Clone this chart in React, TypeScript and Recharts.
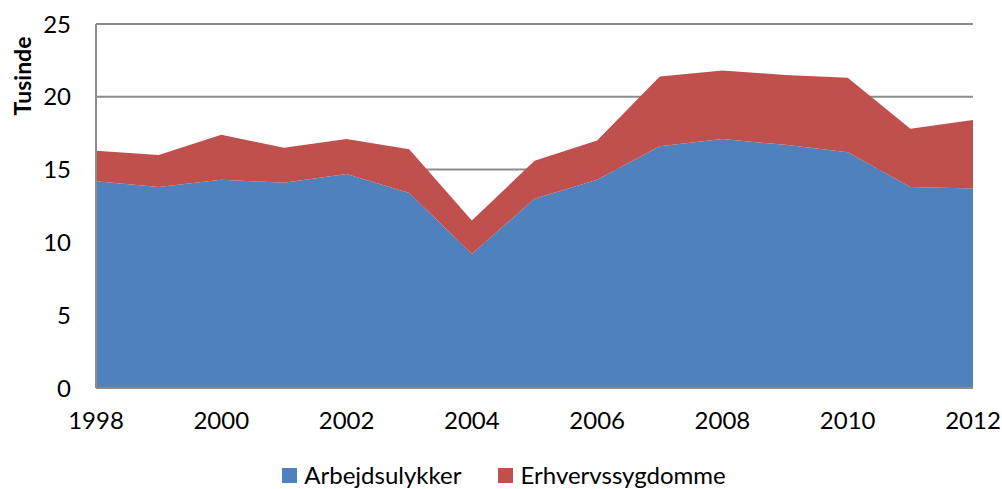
import { Area, AreaChart, CartesianGrid, Legend, XAxis, YAxis } from 'recharts'

const years = [1998, 1999, 2000, 2001, 2002, 2003, 2004, 2005, 2006, 2007, 2008, 2009, 2010, 2011, 2012]
const arbejdsulykker = [14.2, 13.8, 14.3, 14.1, 14.7, 13.4, 9.2, 13.0, 14.3, 16.6, 17.1, 16.7, 16.2, 13.8, 13.7]
const erhvervssygdomme = [2.1, 2.2, 3.1, 2.4, 2.4, 3.0, 2.3, 2.6, 2.7, 4.8, 4.7, 4.8, 5.1, 4.0, 4.7]
const xTicks = [1998, 2000, 2002, 2004, 2006, 2008, 2010, 2012]
const yTicks = [0, 5, 10, 15, 20, 25]

const SERIES = [
  { key: 'arbejdsulykker', name: 'Arbejdsulykker', color: '#4F81BD' },
  { key: 'erhvervssygdomme', name: 'Erhvervssygdomme', color: '#C0504D' },
]

const FONT = 'Lato, "Open Sans", sans-serif'
const GRID = '#8C8C8C'

const data = years.map((year, i) => ({
  year,
  arbejdsulykker: arbejdsulykker[i],
  erhvervssygdomme: erhvervssygdomme[i],
}))

function ChartLegend() {
  return (
    <div style={{ display: 'flex', justifyContent: 'center', gap: 37, fontFamily: FONT, fontSize: 24, color: '#000', lineHeight: '26px', height: 26, paddingLeft: 6 }}>
      {SERIES.map(s => (
        <div key={s.key} style={{ display: 'flex', alignItems: 'center' }}>
          <span style={{ width: 15, height: 15, background: s.color, display: 'inline-block', marginRight: 7 }} />
          <span>{s.name}</span>
        </div>
      ))}
    </div>
  )
}

export default function App() {
  return (
    <div style={{ position: 'absolute', left: 0, top: 0, width: 1002, height: 489, background: '#fff', overflow: 'hidden' }}>
      <AreaChart width={1002} height={489} data={data} margin={{ top: 24, right: 29, left: 36, bottom: 35 }}>
        <CartesianGrid vertical={false} stroke={GRID} strokeWidth={2} />
        <XAxis
          dataKey="year"
          type="number"
          domain={[1998, 2012]}
          ticks={xTicks}
          height={40}
          tickLine={false}
          tickSize={0}
          tickMargin={24}
          axisLine={{ stroke: GRID, strokeWidth: 2 }}
          tick={{ fontSize: 24, fill: '#000', fontFamily: FONT }}
        />
        <YAxis
          domain={[0, 25]}
          ticks={yTicks}
          width={60}
          tickLine={false}
          tickSize={0}
          tickMargin={25}
          axisLine={{ stroke: GRID, strokeWidth: 2 }}
          tick={{ fontSize: 24, fill: '#000', fontFamily: FONT }}
          label={{
            content: () => (
              <text x={22} y={76} transform="rotate(-90 22 76)" textAnchor="middle" dominantBaseline="central" fontFamily={FONT} fontWeight="bold" fontSize={23} fill="#000">
                Tusinde
              </text>
            ),
          }}
        />
        <Legend content={<ChartLegend />} wrapperStyle={{ top: 462, left: 0, width: 1002 }} />
        {SERIES.map(s => (
          <Area
            key={s.key}
            type="linear"
            dataKey={s.key}
            name={s.name}
            stackId="total"
            stroke="none"
            fill={s.color}
            fillOpacity={1}
            isAnimationActive={false}
          />
        ))}
      </AreaChart>
    </div>
  )
}
